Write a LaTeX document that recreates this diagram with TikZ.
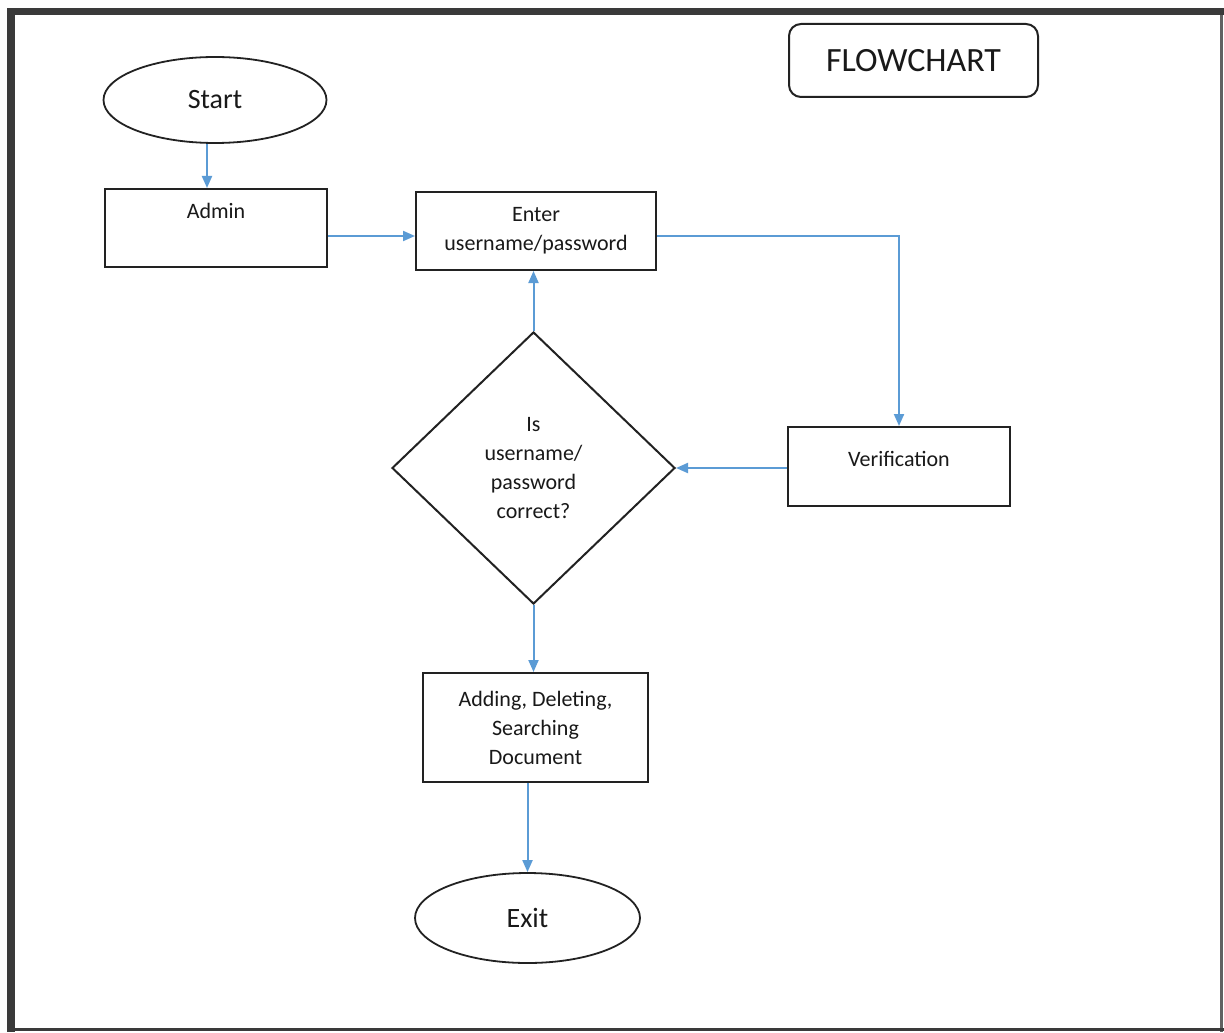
\documentclass[tikz,border=0pt]{standalone}
\usepackage{fontspec}
\setmainfont{Carlito}
\usetikzlibrary{shapes.geometric,arrows.meta,calc}

\definecolor{edge}{HTML}{222222}
\definecolor{flow}{HTML}{5B9BD5}
\definecolor{frame}{HTML}{3A3A3A}

\tikzset{
  stepbox/.style={draw=edge, line width=1pt, rectangle, inner sep=0pt,
    align=center, font=\fontsize{11}{14.5}\selectfont, text=black!90},
  terminal/.style={draw=edge, line width=0.9pt, ellipse, inner sep=0pt,
    font=\fontsize{14}{16}\selectfont, text=black!90},
  decision/.style={draw=edge, line width=1pt, diamond, inner sep=0pt,
    align=center, font=\fontsize{11}{14.5}\selectfont, text=black!90},
  titlebox/.style={draw=edge, line width=1pt, rectangle, rounded corners=6pt,
    inner sep=0pt, font=\fontsize{17}{20}\selectfont, text=black!90},
  link/.style={draw=flow, line width=1pt,
    -{Triangle[length=6pt,width=5pt]}},
}

\begin{document}
\begin{tikzpicture}[x=0.5pt, y=-0.5pt]
  \useasboundingbox (0,0) rectangle (1224,1032);
  \fill[white] (0,0) rectangle (1224,1032);

  % page frame: heavy left and top edges, lighter right and bottom edges
  \fill[frame] (7,8) rectangle (15,1032);
  \fill[frame] (7,8) rectangle (1224,15);
  \draw[frame!80, line width=1.5pt] (1221.5,15) -- (1221.5,1032);
  \draw[frame, line width=1.5pt] (15,1029.5) -- (1224,1029.5);

  % title
  \node[titlebox, minimum width=124.5pt, minimum height=36.5pt] (title) at (913.5,60.5) {FLOWCHART};

  % flow nodes
  \node[terminal, minimum width=111.5pt, minimum height=43pt] (start) at (215,100) {Start};
  \node[stepbox, minimum width=111pt, minimum height=39pt,
        label={[anchor=north, yshift=-4pt, font=\fontsize{11}{14.5}\selectfont, text=black!90]north:Admin}] (admin) at (216,228) {};
  \node[stepbox, minimum width=120pt, minimum height=39pt] (enter) at (536,231) {Enter\\username/password};
  \node[stepbox, minimum width=111pt, minimum height=39.5pt,
        label={[yshift=4pt, font=\fontsize{11}{14.5}\selectfont, text=black!90]center:Verification}] (verif) at (899,466.5) {};
  \node[decision, minimum width=141.5pt, minimum height=136pt] (check) at (533.5,468) {Is\\username/\\password\\correct?};
  \node[stepbox, minimum width=112.5pt, minimum height=54.5pt] (action) at (535.5,727.5) {Adding, Deleting,\\Searching\\Document};
  \node[terminal, minimum width=112.5pt, minimum height=45pt] (exit) at (527.5,918) {Exit};

  % connectors
  \draw[link] ($(start.south)+(-8,0)$) -- ($(start.south |- admin.north)+(-8,0)$);
  \draw[link] ($(admin.east)+(0,8)$) -- ($(enter.west |- admin.east)+(0,8)$);
  \draw[link] ($(enter.east)+(0,5)$) -| (verif.north);
  \draw[link] (verif.west |- check.east) -- (check.east);
  \draw[link] (check.north) -- (check.north |- enter.south);
  \draw[link] (check.south) -- (check.south |- action.north);
  \draw[link] (exit.north |- action.south) -- (exit.north);
\end{tikzpicture}
\end{document}
